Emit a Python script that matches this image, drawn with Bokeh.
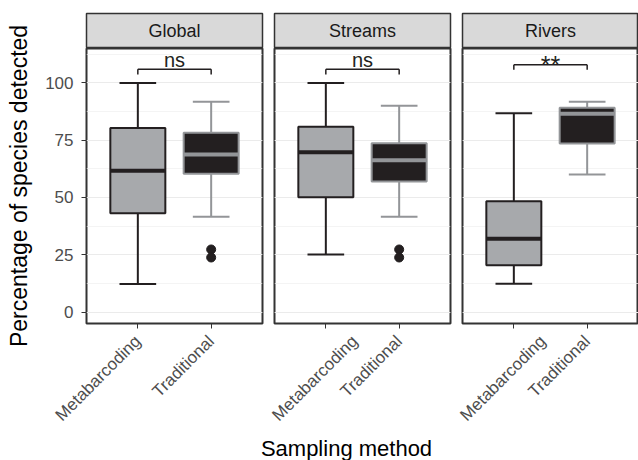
import math
from bokeh.plotting import figure
from bokeh.layouts import row, column
from bokeh.models import ColumnDataSource, FactorRange, Range1d, SingleIntervalTicker, Label
from bokeh.transform import dodge
from bokeh.embed import file_html
from bokeh.resources import INLINE
from bokeh.core.properties import value

# ---------------- data ----------------
panels = ["Global", "Streams", "Rivers"]
methods = ["Metabarcoding", "Traditional"]

# each list: [Metabarcoding, Traditional]
lower = {"Global": [12.2, 41.6], "Streams": [25.1, 41.6], "Rivers": [12.3, 60.0]}
q1 = {"Global": [43.1, 60.3], "Streams": [50.1, 57.0], "Rivers": [20.4, 73.6]}
median = {"Global": [61.7, 68.8], "Streams": [69.7, 66.2], "Rivers": [32.0, 86.5]}
q3 = {"Global": [80.3, 78.2], "Streams": [80.9, 73.7], "Rivers": [48.3, 89.2]}
upper = {"Global": [100.0, 91.8], "Streams": [100.0, 90.0], "Rivers": [86.7, 91.8]}
outliers = {"Global": [27.3, 23.8], "Streams": [27.3, 23.8], "Rivers": []}
sig_label = {"Global": "ns", "Streams": "ns", "Rivers": "**"}
sig_y = {"Global": 105.9, "Streams": 105.9, "Rivers": 107.9}
sig_tip = 2.2

y_title = "Percentage of species detected"
x_title = "Sampling method"

# ---------------- style ----------------
FONT = "Liberation Sans"
FILLS = ["#A7A9AC", "#231F20"]
LINES = ["#231F20", "#939598"]
FRAME_W = 176
FRAME_H = 275
STRIP_H = 35
STRIP_TOP = 13
YT_W = 34
LEFT = 52
BOTTOM = 110
BORDER = "#333333"

cols = []
for i, name in enumerate(panels):
    left = LEFT if i == 0 else 6
    right = 0 if i == 2 else 6

    strip = figure(x_range=Range1d(0, 1), y_range=Range1d(0, 1),
                   frame_width=FRAME_W, frame_height=STRIP_H,
                   min_border_left=left, min_border_right=right,
                   min_border_top=STRIP_TOP, min_border_bottom=0,
                   x_axis_type=None, y_axis_type=None,
                   output_backend="svg", toolbar_location=None,
                   background_fill_color="#D9D9D9",
                   outline_line_color=BORDER, outline_line_width=1.5)
    strip.add_layout(Label(x=0.5, y=0.5, text=name, text_align="center",
                           text_baseline="middle", text_font=FONT,
                           text_font_size="18px", text_color="#1A1A1A"))

    xr = FactorRange(*methods, range_padding=0.2, range_padding_units="absolute")
    p = figure(x_range=xr, y_range=Range1d(-5, 115),
               frame_width=FRAME_W, frame_height=FRAME_H,
               min_border_left=left, min_border_right=right,
               min_border_top=0, min_border_bottom=BOTTOM,
               output_backend="svg", toolbar_location=None,
               outline_line_color=BORDER, outline_line_width=2)

    src = ColumnDataSource(dict(x=methods, lower=lower[name], q1=q1[name],
                                med=median[name], q3=q3[name], upper=upper[name],
                                fill=FILLS, line=LINES))
    # whiskers
    p.segment(x0="x", y0="q3", x1="x", y1="upper", line_color="line", line_width=2, source=src)
    p.segment(x0="x", y0="lower", x1="x", y1="q1", line_color="line", line_width=2, source=src)
    p.segment(x0=dodge("x", -0.25, range=xr), y0="upper", x1=dodge("x", 0.25, range=xr), y1="upper",
              line_color="line", line_width=2, source=src)
    p.segment(x0=dodge("x", -0.25, range=xr), y0="lower", x1=dodge("x", 0.25, range=xr), y1="lower",
              line_color="line", line_width=2, source=src)
    # boxes
    p.vbar(x="x", bottom="q1", top="q3", width=0.75, fill_color="fill",
           line_color="line", line_width=2, source=src)
    p.segment(x0=dodge("x", -0.375, range=xr), y0="med", x1=dodge("x", 0.375, range=xr), y1="med",
              line_color="line", line_width=4, source=src)
    # outliers
    if outliers[name]:
        p.scatter(x=["Traditional"] * len(outliers[name]), y=outliers[name], size=9,
                  fill_color="#231F20", line_color="#231F20")
    # significance bracket
    bsrc = ColumnDataSource(dict(x0=[methods[0]], x1=[methods[1]], y=[sig_y[name]],
                                 tip=[sig_y[name] - sig_tip], text=[sig_label[name]]))
    p.segment(x0="x0", y0="y", x1="x1", y1="y", line_color="#231F20", line_width=1.5, source=bsrc)
    p.segment(x0="x0", y0="y", x1="x0", y1="tip", line_color="#231F20", line_width=1.5, source=bsrc)
    p.segment(x0="x1", y0="y", x1="x1", y1="tip", line_color="#231F20", line_width=1.5, source=bsrc)
    is_star = sig_label[name] == "**"
    p.text(x=dodge("x0", 0.5, range=xr), y="y", text="text", source=bsrc,
           text_font=value(FONT), text_font_size="25px" if is_star else "20px",
           text_color="#231F20", text_align="center", text_baseline="middle",
           y_offset=0 if is_star else -9)

    # axes & grid
    ticker = SingleIntervalTicker(interval=25, num_minor_ticks=2)
    p.yaxis.ticker = ticker
    p.ygrid.ticker = ticker
    p.xgrid.grid_line_color = None
    p.ygrid.grid_line_color = "#EBEBEB"
    p.ygrid.grid_line_width = 1.2
    p.ygrid.minor_grid_line_color = "#EFEFEF"
    p.ygrid.minor_grid_line_width = 0.7

    p.xaxis.major_label_orientation = math.pi / 4
    p.xaxis.major_label_text_font = FONT
    p.xaxis.major_label_text_font_size = "17px"
    p.xaxis.major_label_text_color = "#4D4D4D"
    p.xaxis.major_tick_out = 5
    p.xaxis.major_tick_in = 0
    p.xaxis.major_tick_line_color = BORDER
    p.xaxis.major_label_standoff = 10
    p.xaxis.axis_line_color = None

    if i == 0:
        p.yaxis.major_label_text_font = FONT
        p.yaxis.major_label_text_font_size = "17px"
        p.yaxis.major_label_text_color = "#4D4D4D"
        p.yaxis.major_tick_out = 5
        p.yaxis.major_tick_in = 0
        p.yaxis.minor_tick_line_color = None
        p.yaxis.major_tick_line_color = BORDER
        p.yaxis.major_label_standoff = 8
        p.yaxis.axis_line_color = None
    else:
        p.yaxis.visible = False

    cols.append(column(strip, p))

# y-axis title (spans the strip area like in the reference)
YT_H = 360
yt = figure(width=YT_W, height=YT_H, x_range=Range1d(0, YT_W), y_range=Range1d(0, YT_H),
            x_axis_type=None, y_axis_type=None, min_border=0,
            outline_line_color=None, output_backend="svg", toolbar_location=None)
frame_center_from_top = STRIP_TOP + STRIP_H + FRAME_H / 2
yt.add_layout(Label(x=18, y=YT_H - frame_center_from_top, text=y_title, angle=math.pi / 2,
                    text_align="center", text_baseline="middle",
                    text_font=FONT, text_font_size="23px", text_color="#000000"))

total_w = YT_W + LEFT + 3 * FRAME_W + 6 + 6 + 6 + 6
T_H = 460 - (STRIP_TOP + STRIP_H + FRAME_H + BOTTOM)
t = figure(width=total_w, height=T_H, x_range=Range1d(0, total_w), y_range=Range1d(0, T_H),
           x_axis_type=None, y_axis_type=None, min_border=0,
           outline_line_color=None, output_backend="svg", toolbar_location=None)
t.add_layout(Label(x=346, y=13, text=x_title, text_align="center", text_baseline="middle",
                   text_font=FONT, text_font_size="22px", text_color="#000000"))

layout = column(row(yt, *cols), t)
open("out.html", "w").write(file_html(layout, INLINE))
